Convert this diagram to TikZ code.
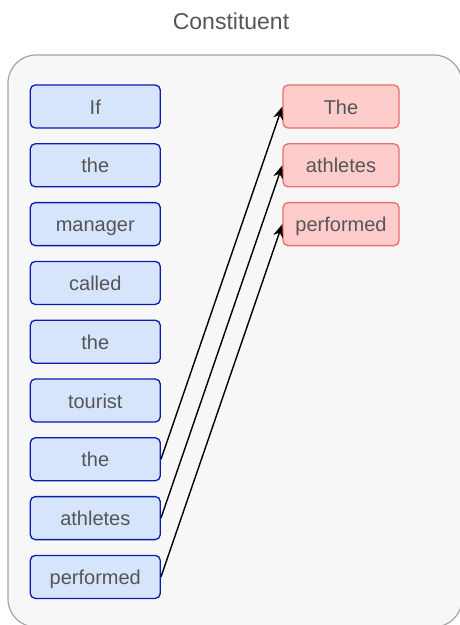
\documentclass[tikz,border=0pt]{standalone}
\usepackage{fontspec}
\usepackage{xcolor}
\setmainfont{Liberation Sans}
\usetikzlibrary{arrows.meta}

\definecolor{wordfill}{HTML}{D6E5FC}
\definecolor{worddraw}{HTML}{0A1BB0}
\definecolor{partfill}{HTML}{FFCCCC}
\definecolor{partdraw}{HTML}{EE6E68}
\definecolor{panelfill}{HTML}{F7F7F7}
\definecolor{paneldraw}{HTML}{A3A3A3}
\definecolor{textgray}{HTML}{555555}

\tikzset{
  word/.style={draw=worddraw, fill=wordfill, line width=1.3pt, rounded corners=5pt,
    minimum width=130pt, minimum height=43pt, text height=15.5pt, text depth=0.5pt,
    text=textgray, font=\fontsize{20}{24}\selectfont},
  part/.style={draw=partdraw, fill=partfill, line width=1.3pt, rounded corners=5pt,
    minimum width=116pt, minimum height=43pt, text height=15.5pt, text depth=0.5pt,
    text=textgray, font=\fontsize{20}{24}\selectfont},
  link/.style={-{Stealth[length=13pt,width=10pt,inset=4pt]}, line width=1.4pt, black}
}

\begin{document}
\begin{tikzpicture}[x=1pt, y=-1pt]
        \useasboundingbox (0,0) rectangle (459,625);
        \draw[draw=paneldraw, fill=panelfill, line width=1.2pt, rounded corners=28pt] (8,55) rectangle (462,627);
        \node[text=textgray, font=\fontsize{23}{27}\selectfont] (title) at (231,21) {Constituent};
        \node[word] (if) at (95.3,106.5) {If};
        \node[word] (the1) at (95.3,165.3) {the};
        \node[word] (manager) at (95.3,224.1) {manager};
        \node[word] (called) at (95.3,282.9) {called};
        \node[word] (the2) at (95.3,341.7) {the};
        \node[word] (tourist) at (95.3,400.5) {tourist};
        \node[word] (the3) at (95.3,459.3) {the};
        \node[word] (athletes) at (95.3,518.1) {athletes};
        \node[word] (performed) at (95.3,576.9) {performed};
        \node[part] (cthe) at (341,106.5) {The};
        \node[part] (cathletes) at (341,165.3) {athletes};
        \node[part] (cperformed) at (341,224.1) {performed};
        \draw[link] (the3.east) -- (cthe.west);
        \draw[link] (athletes.east) -- (cathletes.west);
        \draw[link] (performed.east) -- (cperformed.west);
    \end{tikzpicture}
\end{document}
